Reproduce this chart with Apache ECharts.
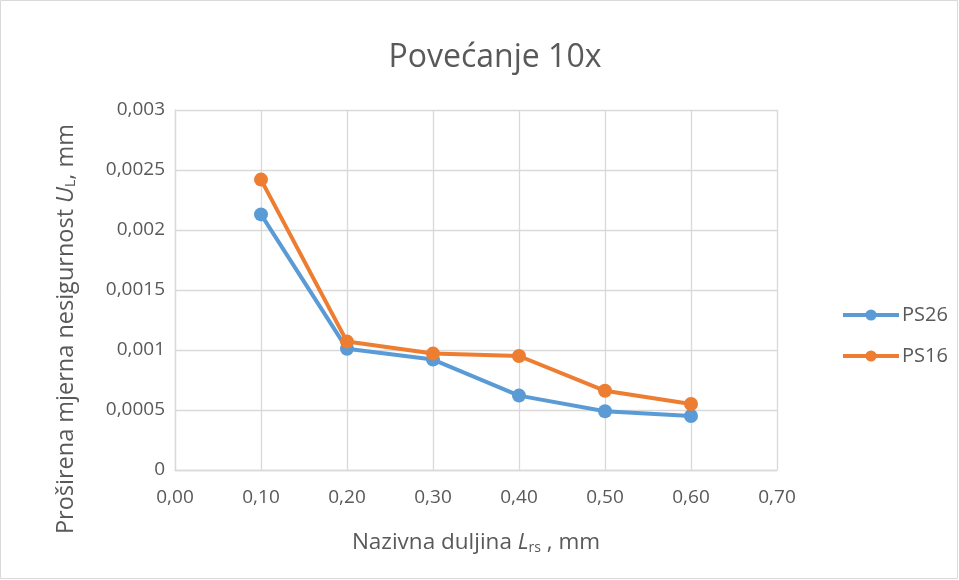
<!DOCTYPE html>
<html>
<head>
<meta charset="utf-8">
<script src="https://cdn.jsdelivr.net/npm/echarts@6/dist/echarts.min.js"></script>
<style>
  html, body { margin: 0; padding: 0; background: #fff; }
  #chart { width: 959px; height: 580px; }
</style>
</head>
<body>
<div id="chart"></div>
<script>
// Nominal length L_rs (mm)
const lengths = [0.10, 0.20, 0.30, 0.40, 0.50, 0.60];
// Expanded measurement uncertainty U_L (mm)
const ps26 = [0.00213, 0.00101, 0.00092, 0.00062, 0.00049, 0.00045];
const ps16 = [0.00242, 0.00107, 0.00097, 0.00095, 0.00066, 0.00055];
const seriesNames = ['PS26', 'PS16'];
// Tick labels
const xTickLabels = ['0,00', '0,10', '0,20', '0,30', '0,40', '0,50', '0,60', '0,70'];
const yTickLabels = ['0', '0,0005', '0,001', '0,0015', '0,002', '0,0025', '0,003'];

const FONT = '"Open Sans", "Noto Sans", sans-serif';
const TXT = '#595959';

const chart = echarts.init(document.getElementById('chart'), null, { renderer: 'canvas' });

function pairs(ys) { return lengths.map((x, i) => [x, ys[i]]); }

const colors = ['#5b9bd5', '#ed7d31'];

function nameStyle(size, padding) {
  return {
    fontFamily: FONT, fontSize: size, color: TXT, padding: padding,
    rich: {
      i: { fontFamily: FONT, fontSize: size, fontStyle: 'italic', color: TXT },
      sub: { fontFamily: FONT, fontSize: 14, color: TXT, padding: [10, 0, 0, 0] }
    }
  };
}

chart.setOption({
  animation: false,
  backgroundColor: '#ffffff',
  textStyle: { fontFamily: FONT },
  title: {
    text: 'Povećanje 10x',
    left: 490, top: 37, textAlign: 'center',
    textStyle: { fontFamily: FONT, fontSize: 32, fontWeight: 'normal', color: TXT }
  },
  graphic: [{
    type: 'rect', silent: true,
    shape: { x: 0.5, y: 0.5, width: 957, height: 578 },
    style: { fill: 'none', stroke: '#d9d9d9', lineWidth: 1 }
  }],
  legend: {
    orient: 'vertical', left: 836, top: 300, itemGap: 21,
    itemWidth: 56, itemHeight: 14,
    data: seriesNames,
    lineStyle: { width: 4 },
    textStyle: { fontFamily: FONT, fontSize: 20, color: TXT, padding: [0, 0, 0, -2] }
  },
  grid: { left: 175, right: 182, top: 110, bottom: 110 },
  xAxis: {
    type: 'value', min: 0, max: 0.7, interval: 0.1,
    name: 'Nazivna duljina {i|L}{sub|rs} , mm',
    nameLocation: 'middle', nameGap: 61,
    nameTextStyle: nameStyle(22.5, [0, 0, 0, 0]),
    axisLine: { show: true, lineStyle: { color: '#d9d9d9', width: 1.3 } },
    axisTick: { show: false },
    splitLine: { show: true, lineStyle: { color: '#d9d9d9', width: 1.3 } },
    axisLabel: {
      margin: 18, fontFamily: FONT, fontSize: 19, color: TXT,
      formatter: v => xTickLabels[Math.round(v * 10)]
    }
  },
  yAxis: {
    type: 'value', min: 0, max: 0.003, interval: 0.0005,
    name: 'Proširena mjerna nesigurnost {i|U}{sub|L}, mm',
    nameLocation: 'middle', nameGap: 97,
    nameTextStyle: nameStyle(23.5, [0, 78, 0, 0]),
    axisLine: { show: true, lineStyle: { color: '#d9d9d9', width: 1.3 } },
    axisTick: { show: false },
    splitLine: { show: true, lineStyle: { color: '#d9d9d9', width: 1.3 } },
    axisLabel: {
      margin: 10, fontFamily: FONT, fontSize: 19, color: TXT,
      formatter: v => yTickLabels[Math.round(v / 0.0005)]
    }
  },
  series: [
    { name: seriesNames[0], data: pairs(ps26), color: colors[0] },
    { name: seriesNames[1], data: pairs(ps16), color: colors[1] }
  ].map(s => ({
    type: 'line',
    name: s.name,
    data: s.data,
    symbol: 'circle', symbolSize: 14,
    lineStyle: { color: s.color, width: 4 },
    itemStyle: { color: s.color },
    emphasis: { disabled: true }
  }))
});
</script>
</body>
</html>
